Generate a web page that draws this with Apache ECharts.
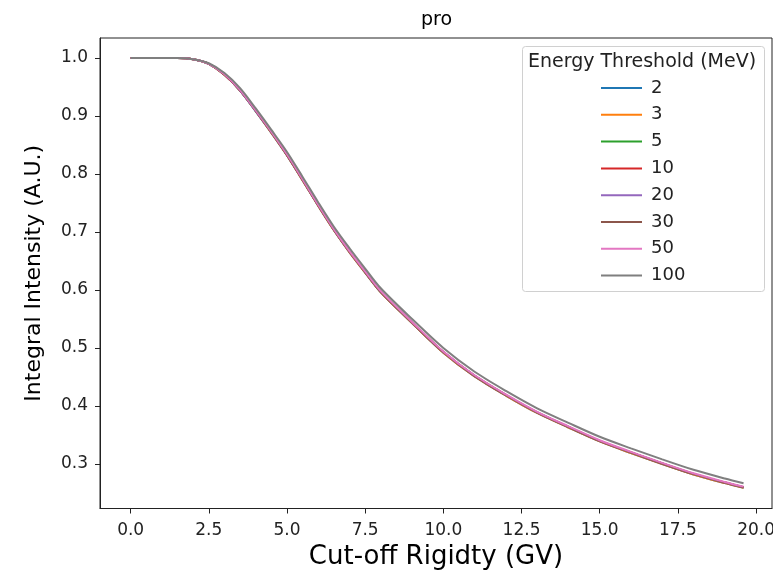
<!DOCTYPE html>
<html>
<head>
<meta charset="utf-8">
<title>pro</title>
<script src="https://cdn.jsdelivr.net/npm/echarts@6/dist/echarts.min.js"></script>
<style>
    html, body { margin: 0; padding: 0; background: #fff; }
    #chart { width: 773px; height: 570px; }
</style>
</head>
<body>
<div id="chart"></div>
<script>
var rigidity = [0, 1, 1.5, 2, 2.5, 3, 3.5, 4, 4.5, 5, 5.5, 6, 6.5, 7, 7.5, 8, 9, 10, 11, 12, 13, 14, 15, 16, 17, 18, 19, 19.6];

var thresholds = ['2', '3', '5', '10', '20', '30', '50', '100'];

var intensity2 = [1.000, 1.000, 1.000, 0.998, 0.990, 0.971, 0.944, 0.908, 0.871, 0.832, 0.789, 0.745, 0.703, 0.665, 0.630, 0.596, 0.543, 0.492, 0.451, 0.418, 0.388, 0.363, 0.339, 0.319, 0.300, 0.282, 0.267, 0.259];
var intensity3 = [1.000, 1.000, 1.000, 0.998, 0.990, 0.971, 0.944, 0.909, 0.871, 0.832, 0.789, 0.745, 0.703, 0.665, 0.630, 0.596, 0.543, 0.492, 0.451, 0.418, 0.388, 0.363, 0.339, 0.319, 0.300, 0.282, 0.267, 0.259];
var intensity5 = [1.000, 1.000, 1.000, 0.998, 0.990, 0.971, 0.944, 0.909, 0.872, 0.833, 0.790, 0.746, 0.704, 0.666, 0.631, 0.597, 0.544, 0.493, 0.452, 0.419, 0.389, 0.364, 0.340, 0.320, 0.301, 0.283, 0.268, 0.260];
var intensity10 = [1.000, 1.000, 1.000, 0.998, 0.990, 0.971, 0.944, 0.909, 0.872, 0.833, 0.790, 0.746, 0.704, 0.666, 0.631, 0.597, 0.544, 0.493, 0.452, 0.419, 0.389, 0.364, 0.340, 0.320, 0.301, 0.283, 0.268, 0.260];
var intensity20 = [1.000, 1.000, 1.000, 0.998, 0.990, 0.972, 0.944, 0.909, 0.872, 0.833, 0.790, 0.746, 0.704, 0.666, 0.631, 0.597, 0.544, 0.493, 0.452, 0.419, 0.389, 0.364, 0.340, 0.320, 0.301, 0.283, 0.268, 0.260];
var intensity30 = [1.000, 1.000, 1.000, 0.998, 0.990, 0.972, 0.945, 0.910, 0.872, 0.833, 0.790, 0.746, 0.704, 0.666, 0.631, 0.597, 0.544, 0.493, 0.452, 0.419, 0.389, 0.364, 0.340, 0.320, 0.301, 0.283, 0.268, 0.260];
var intensity50 = [1.000, 1.000, 1.000, 0.998, 0.990, 0.972, 0.945, 0.910, 0.873, 0.834, 0.791, 0.747, 0.705, 0.667, 0.632, 0.598, 0.545, 0.494, 0.453, 0.420, 0.390, 0.365, 0.341, 0.321, 0.302, 0.284, 0.269, 0.261];
var intensity100 = [1.000, 1.000, 1.000, 0.998, 0.991, 0.974, 0.948, 0.913, 0.876, 0.838, 0.795, 0.751, 0.709, 0.672, 0.637, 0.603, 0.550, 0.500, 0.459, 0.426, 0.396, 0.371, 0.347, 0.327, 0.308, 0.290, 0.275, 0.267];

var xTicks = [0, 2.5, 5, 7.5, 10, 12.5, 15, 17.5, 20];
var yTicks = [0.3, 0.4, 0.5, 0.6, 0.7, 0.8, 0.9, 1.0];

var colors = ['#1f77b4', '#ff7f0e', '#2ca02c', '#d62728', '#9467bd', '#8c564b', '#e377c2', '#7f7f7f'];
var fontName = 'DejaVu Sans';

var chartDom = document.getElementById('chart');
var chart = echarts.init(chartDom, null, { renderer: 'canvas' });

function toPairs(values) {
    return rigidity.map(function (r, i) {
        return [r, values[i]];
    });
}

var allValues = [intensity2, intensity3, intensity5, intensity10, intensity20, intensity30, intensity50, intensity100];

var series = thresholds.map(function (name, index) {
    return {
        name: name,
        type: 'line',
        data: toPairs(allValues[index]),
        smooth: 0.3,
        symbol: 'none',
        lineStyle: { width: 2, color: colors[index] },
        itemStyle: { color: colors[index] }
    };
});

var option = {
    animation: false,
    backgroundColor: '#fff',
    textStyle: { fontFamily: fontName },
    title: {
        text: 'pro',
        left: 416,
        top: 6,
        textStyle: { fontFamily: fontName, fontSize: 19, fontWeight: 'normal', color: '#000' }
    },
    grid: {
        left: 100,
        top: 38,
        right: 1,
        bottom: 61.5,
        outerBoundsMode: 'none',
        containLabel: false,
        show: true,
        borderColor: '#222',
        borderWidth: 1,
        backgroundColor: 'transparent'
    },
    xAxis: {
        type: 'value',
        min: -0.98,
        max: 20.51,
        name: 'Cut-off Rigidty (GV)',
        nameLocation: 'middle',
        nameGap: 33,
        nameTextStyle: { fontFamily: fontName, fontSize: 26, color: '#000' },
        axisLine: { show: true, onZero: false, lineStyle: { color: '#222', width: 1 } },
        axisTick: { show: true, length: 5, customValues: xTicks, lineStyle: { color: '#222' } },
        axisLabel: {
            customValues: xTicks,
            margin: 14,
            fontFamily: fontName,
            fontSize: 17,
            color: '#222',
            formatter: function (v) { return v.toFixed(1); }
        },
        splitLine: { show: false }
    },
    yAxis: {
        type: 'value',
        min: 0.2233,
        max: 1.0345,
        name: 'Integral Intensity (A.U.)',
        nameLocation: 'middle',
        nameGap: 55,
        nameTextStyle: { fontFamily: fontName, fontSize: 22, color: '#000' },
        axisLine: { show: true, onZero: false, lineStyle: { color: '#222', width: 1 } },
        axisTick: { show: true, length: 5, customValues: yTicks, lineStyle: { color: '#222' } },
        axisLabel: {
            customValues: yTicks,
            margin: 12,
            fontFamily: fontName,
            fontSize: 17,
            color: '#222',
            formatter: function (v) { return v.toFixed(1); }
        },
        splitLine: { show: false }
    },
    legend: {
        data: thresholds,
        orient: 'vertical',
        left: 596,
        top: 74,
        itemWidth: 41,
        itemHeight: 14,
        itemGap: 8.8,
        icon: 'path://M0,6 L41,6 L41,8 L0,8 Z',
        textStyle: { fontFamily: fontName, fontSize: 18, lineHeight: 18, color: '#222', padding: [0, 0, 0, 4] }
    },
    graphic: [
        {
            type: 'rect',
            z: 1,
            shape: { x: 522.5, y: 46.5, width: 242, height: 245, r: 3 },
            style: { fill: 'rgba(255,255,255,0.8)', stroke: '#d0d0d0', lineWidth: 1 }
        },
        {
            type: 'text',
            z: 2,
            x: 642,
            y: 62,
            style: {
                text: 'Energy Threshold (MeV)',
                fontFamily: fontName,
                fontSize: 19,
                fill: '#222',
                align: 'center',
                verticalAlign: 'middle'
            }
        }
    ],
    series: series
};

chart.setOption(option);
</script>
</body>
</html>
